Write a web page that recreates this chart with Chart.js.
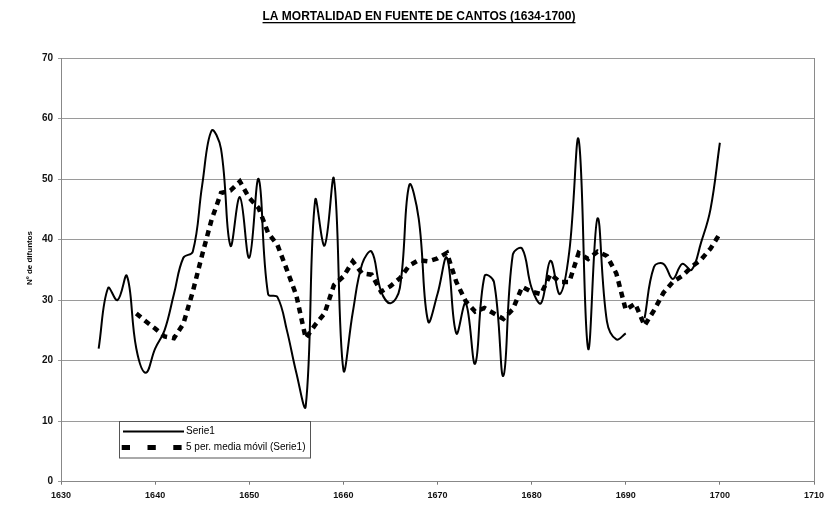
<!DOCTYPE html>
<html>
<head>
<meta charset="utf-8">
<script src="https://cdn.jsdelivr.net/npm/chart.js@4.4.1/dist/chart.umd.min.js"></script>
<style>
html,body{margin:0;padding:0;background:#fff;}
#wrap{width:834px;height:505px;position:relative;}
</style>
</head>
<body>
<div id="wrap"><canvas id="c" width="834" height="505"></canvas></div>
<script>
const titleText = 'LA MORTALIDAD EN FUENTE DE CANTOS (1634-1700)';
const yAxisTitle = 'Nº de difuntos';
const serieLabel = 'Serie1';
const maLabel = '5 per. media móvil (Serie1)';

const years = [1634,1635,1636,1637,1638,1639,1640,1641,1642,1643,1644,1645,1646,1647,1648,1649,
  1650,1651,1652,1653,1654,1655,1656,1657,1658,1659,1660,1661,1662,1663,1664,1665,1666,1667,1668,1669,
  1670,1671,1672,1673,1674,1675,1676,1677,1678,1679,1680,1681,1682,1683,1684,1685,1686,1687,1688,1689,
  1690,1691,1692,1693,1694,1695,1696,1697,1698,1699,1700];

const serie1 = [22,32,30,34,22,18,22,25,31,37,38,49,58,55,39,47,
  37,50,31,30.5,25,18,12.5,46.5,39,50,18.5,28,36,38,31.5,29.5,32,49,43.5,26.5,
  31,37,24.5,29.5,19.5,34,33,17.5,37.5,38.5,32,29.5,36.5,31,38,56.5,22,43.5,26.5,23.5,
  24.5,null,27,35.5,36,33.5,36,35,39.5,45,56];

const maYears = [1638,1639,1640,1641,1642,1643,1644,1645,1646,1647,1648,1649,
  1650,1651,1652,1653,1654,1655,1656,1657,1658,1659,1660,1661,1662,1663,1664,1665,1666,1667,1668,1669,
  1670,1671,1672,1673,1674,1675,1676,1677,1678,1679,1680,1681,1682,1683,1684,1685,1686,1687,1688,1689,
  1690,1691,1692,1693,1694,1695,1696,1697,1698,1699,1700];

const mediaMovil = [27.8,26.5,25.3,24.0,23.7,26.1,31.4,37.5,43.3,47.7,48.1,49.6,
  46.9,45.2,41.1,39.1,35,30.8,23.7,25.9,27.8,32.5,33.9,36.4,34.4,34.2,31.4,32.3,33.6,35.7,36.6,36.4,
  36.9,37.8,33.0,29.8,28.1,28.7,27.8,26.9,28.5,32.2,31.4,31,34.3,33,33,37.8,36.8,38,37.3,34.4,
  28.4,29.4,25.8,28.3,31.2,33,34,35.5,36.7,38.5,41];

const xTicks = [1630,1640,1650,1660,1670,1680,1690,1700,1710];
const yTicks = [0,10,20,30,40,50,60,70];

const FONT = '"Liberation Sans", Arial, Helvetica, sans-serif';

const decor = {
  id: 'decor',
  afterDraw(chart) {
    const ctx = chart.ctx;
    const a = chart.chartArea;
    ctx.save();
    // right border of plot area
    ctx.strokeStyle = '#8a8a8a';
    ctx.lineWidth = 1;
    ctx.beginPath();
    const rx = Math.round(a.right) + 0.5;
    ctx.moveTo(rx, a.top); ctx.lineTo(rx, a.bottom);
    ctx.stroke();

    // title with underline
    ctx.fillStyle = '#000';
    ctx.font = 'bold 12px ' + FONT;
    ctx.textAlign = 'center';
    ctx.textBaseline = 'alphabetic';
    const tx = 419;
    ctx.fillText(titleText, tx, 20);
    const tw = ctx.measureText(titleText).width;
    ctx.fillRect(tx - tw / 2, 22, tw, 1.3);

    // y-axis title
    ctx.save();
    ctx.translate(30, 258);
    ctx.rotate(-Math.PI / 2);
    ctx.font = 'bold 8px ' + FONT;
    ctx.textAlign = 'center';
    ctx.textBaseline = 'middle';
    ctx.fillText(yAxisTitle, 0, 0);
    ctx.restore();

    // legend box
    const lx = 119.5, ly = 421.5, lw = 191, lh = 36.5;
    ctx.fillStyle = '#fff';
    ctx.fillRect(lx, ly, lw, lh);
    ctx.strokeStyle = '#555';
    ctx.lineWidth = 1;
    ctx.strokeRect(lx, ly, lw, lh);

    // legend item 1
    ctx.strokeStyle = '#000';
    ctx.lineWidth = 2;
    ctx.setLineDash([]);
    ctx.beginPath();
    ctx.moveTo(123, 431.5); ctx.lineTo(184, 431.5);
    ctx.stroke();
    // legend item 2
    ctx.lineWidth = 5;
    ctx.setLineDash([8.3, 17.5]);
    ctx.beginPath();
    ctx.moveTo(121.7, 447.5); ctx.lineTo(182, 447.5);
    ctx.stroke();
    ctx.setLineDash([]);

    ctx.fillStyle = '#000';
    ctx.font = '10px ' + FONT;
    ctx.textAlign = 'left';
    ctx.textBaseline = 'middle';
    ctx.fillText(chart.data.datasets[0].label, 186, 431.5);
    ctx.fillText(chart.data.datasets[1].label, 186, 447.5);
    ctx.restore();
  }
};

new Chart(document.getElementById('c'), {
  type: 'line',
  data: {
    datasets: [
      {
        label: serieLabel,
        data: years.map((y, i) => ({x: y, y: serie1[i]})),
        borderColor: '#000',
        borderWidth: 2,
        tension: 0.4,
        pointRadius: 0,
        spanGaps: false,
        fill: false
      },
      {
        label: maLabel,
        data: maYears.map((y, i) => ({x: y, y: mediaMovil[i]})),
        borderColor: '#000',
        borderWidth: 4.5,
        borderDash: [6, 5],
        borderCapStyle: 'butt',
        tension: 0,
        pointRadius: 0,
        fill: false
      }
    ]
  },
  options: {
    responsive: false,
    animation: false,
    devicePixelRatio: 1,
    layout: { padding: { left: 0, right: 20, top: 58, bottom: 0 } },
    plugins: {
      legend: { display: false },
      title: { display: false },
      tooltip: { enabled: false }
    },
    scales: {
      x: {
        type: 'linear',
        min: 1630,
        max: 1710,
        afterBuildTicks: s => { s.ticks = xTicks.map(v => ({value: v})); },
        afterFit: s => { s.height = 23.3; },
        ticks: {
          callback: v => String(v),
          font: { family: FONT, size: 9, weight: 'bold' },
          color: '#111',
          padding: 5,
          maxRotation: 0,
          autoSkip: false
        },
        grid: { drawOnChartArea: false, drawTicks: true, tickLength: 3, color: '#777' },
        border: { display: true, color: '#888', width: 1 }
      },
      y: {
        min: 0,
        max: 70,
        afterBuildTicks: s => { s.ticks = yTicks.map(v => ({value: v})); },
        afterFit: s => { s.width = 61; },
        ticks: {
          callback: v => String(v),
          font: { family: FONT, size: 10, weight: 'bold' },
          color: '#111',
          padding: 5
        },
        grid: { color: '#9a9a9a', lineWidth: 1, drawTicks: true, tickLength: 3 },
        border: { display: true, color: '#888', width: 1 }
      }
    }
  },
  plugins: [decor]
});
</script>
</body>
</html>
